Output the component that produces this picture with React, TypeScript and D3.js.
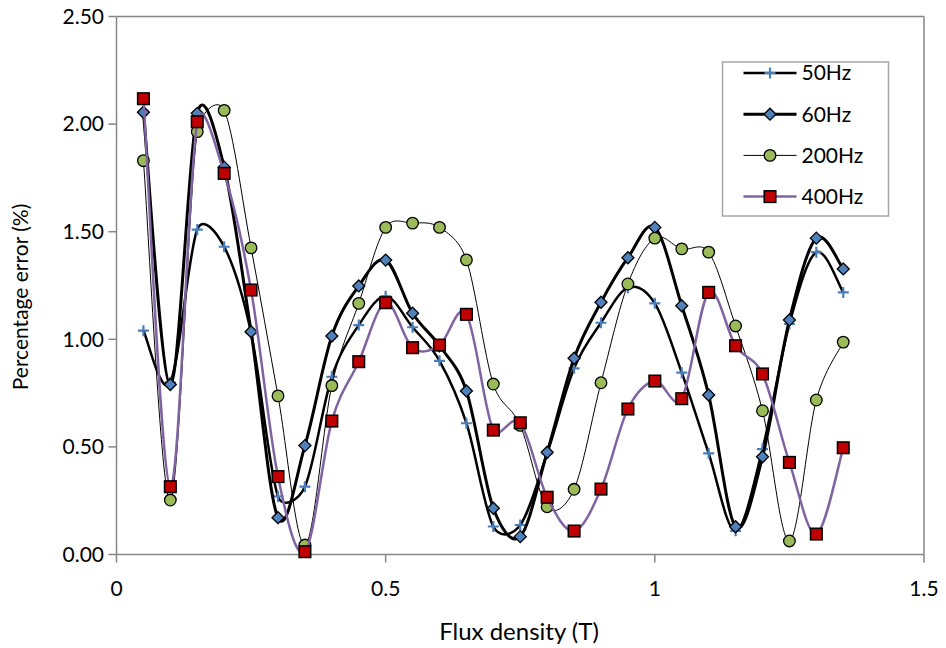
import React from "react";
import * as d3 from "d3";

// Flux density sample points (T)
const fluxDensity = [
  0.05, 0.1, 0.15, 0.2, 0.25, 0.3, 0.35, 0.4, 0.45, 0.5, 0.55, 0.6, 0.65, 0.7,
  0.75, 0.8, 0.85, 0.9, 0.95, 1.0, 1.05, 1.1, 1.15, 1.2, 1.25, 1.3, 1.35,
];

// Percentage error (%) per frequency
const err50Hz = [
  1.04, 0.8, 1.51, 1.43, 1.03, 0.27, 0.315, 0.826, 1.066, 1.2, 1.056, 0.9, 0.61,
  0.13, 0.137, 0.47, 0.865, 1.077, 1.24, 1.167, 0.845, 0.47, 0.11, 0.49, 1.071,
  1.405, 1.218,
];
const err60Hz = [
  2.055, 0.79, 2.05, 1.8, 1.035, 0.171, 0.506, 1.015, 1.248, 1.368, 1.121, 0.97,
  0.76, 0.215, 0.083, 0.475, 0.912, 1.172, 1.379, 1.52, 1.156, 0.741, 0.129,
  0.454, 1.09, 1.47, 1.327,
];
const err200Hz = [
  1.83, 0.253, 1.965, 2.064, 1.425, 0.737, 0.044, 0.785, 1.167, 1.52, 1.54,
  1.52, 1.369, 0.792, 0.6, 0.222, 0.303, 0.798, 1.257, 1.47, 1.42, 1.405, 1.062,
  0.668, 0.063, 0.718, 0.987,
];
const err400Hz = [
  2.118, 0.315, 2.011, 1.771, 1.229, 0.362, 0.013, 0.62, 0.896, 1.17, 0.961,
  0.973, 1.116, 0.578, 0.612, 0.266, 0.109, 0.304, 0.676, 0.806, 0.724, 1.218,
  0.97, 0.839, 0.428, 0.095, 0.496,
];

const seriesNames = ["50Hz", "60Hz", "200Hz", "400Hz"];
const xTicks = [0, 0.5, 1, 1.5];
const xTickLabels = ["0", "0.5", "1", "1.5"];
const yTicks = [0, 0.5, 1, 1.5, 2, 2.5];

const W = 946;
const H = 648;
const FONT = "Lato, 'Open Sans', sans-serif";
const AXIS = "#868686";

type Marker = "plus" | "diamond" | "circle" | "square";
interface SeriesStyle {
  line: string;
  width: number;
  marker: Marker;
  fill: string;
}
const styles: SeriesStyle[] = [
  { line: "#000000", width: 2.5, marker: "plus", fill: "#4a7ebb" },
  { line: "#000000", width: 3, marker: "diamond", fill: "#4f81bd" },
  { line: "#000000", width: 1, marker: "circle", fill: "#9bbb59" },
  { line: "#8064a2", width: 2.5, marker: "square", fill: "#c00000" },
];

// Spreadsheet-style smoothed line: cubic Bezier segments whose control arms are
// one sixth of the neighbour chord, capped at half of the segment length.
function smoothSpreadsheet(context: any) {
  let pts: [number, number][] = [];
  const dist = (a: [number, number], b: [number, number]) => Math.hypot(b[0] - a[0], b[1] - a[1]);
  return {
    areaStart() {},
    areaEnd() {},
    lineStart() {
      pts = [];
    },
    point(x: number, y: number) {
      pts.push([+x, +y]);
    },
    lineEnd() {
      const n = pts.length;
      if (!n) return;
      context.moveTo(pts[0][0], pts[0][1]);
      for (let i = 0; i < n - 1; i++) {
        const p0 = pts[Math.max(i - 1, 0)];
        const p1 = pts[i];
        const p2 = pts[i + 1];
        const p3 = pts[Math.min(i + 2, n - 1)];
        const d12 = dist(p1, p2);
        const d02 = dist(p0, p2);
        const d13 = dist(p1, p3);
        const f1 = d02 / 6 < d12 / 2 || d02 === 0 ? 1 / 6 : d12 / (2 * d02);
        const f2 = d13 / 6 < d12 / 2 || d13 === 0 ? 1 / 6 : d12 / (2 * d13);
        context.bezierCurveTo(
          p1[0] + (p2[0] - p0[0]) * f1,
          p1[1] + (p2[1] - p0[1]) * f1,
          p2[0] - (p3[0] - p1[0]) * f2,
          p2[1] - (p3[1] - p1[1]) * f2,
          p2[0],
          p2[1]
        );
      }
    },
  };
}

function MarkerShape({ type, fill, x, y }: { type: Marker; fill: string; x: number; y: number }) {
  if (type === "plus") {
    return (
      <path
        d={`M${x - 5.5},${y}H${x + 5.5}M${x},${y - 5.5}V${y + 5.5}`}
        stroke={fill}
        strokeWidth={2.2}
        fill="none"
      />
    );
  }
  if (type === "diamond") {
    const r = 6;
    return (
      <path
        d={`M${x},${y - r}L${x + r},${y}L${x},${y + r}L${x - r},${y}Z`}
        fill={fill}
        stroke="#000"
        strokeWidth={1.3}
      />
    );
  }
  if (type === "circle") {
    return <circle cx={x} cy={y} r={5.8} fill={fill} stroke="#000" strokeWidth={1.3} />;
  }
  const s = 5.8;
  return (
    <rect x={x - s} y={y - s} width={2 * s} height={2 * s} fill={fill} stroke="#000" strokeWidth={1.5} />
  );
}

export default function App() {
  const x = d3.scaleLinear().domain([0, 1.5]).range([116.5, 924]);
  const y = d3.scaleLinear().domain([0, 2.5]).range([554.5, 16.5]);
  const allSeries = [err50Hz, err60Hz, err200Hz, err400Hz];

  const line = d3
    .line<number>()
    .x((_, i) => x(fluxDensity[i]))
    .y((d) => y(d))
    .curve(smoothSpreadsheet as any);

  const [x0, x1] = x.range();
  const [y0, y1] = y.range();

  const legendX = 722.5;
  const legendY = 62;
  const rowGap = 41.2;

  return (
    <svg
      width={W}
      height={H}
      style={{ position: "absolute", left: 0, top: 0, display: "block", background: "#fff" }}
      fontFamily={FONT}
    >
      {/* plot frame */}
      <line x1={x0} x2={x1} y1={y1} y2={y1} stroke={AXIS} strokeWidth={1.5} />
      <line x1={x1} x2={x1} y1={y1} y2={y0} stroke={AXIS} strokeWidth={1.5} />
      <line x1={x0} x2={x0} y1={y1} y2={y0} stroke={AXIS} strokeWidth={1.5} />
      <line x1={x0} x2={x1} y1={y0} y2={y0} stroke={AXIS} strokeWidth={1.5} />

      {/* y axis ticks and labels */}
      {yTicks.map((t) => (
        <g key={`y${t}`}>
          <line x1={x0 - 8} x2={x0} y1={y(t)} y2={y(t)} stroke={AXIS} strokeWidth={1.5} />
          <text x={104} y={y(t)} dy="0.35em" textAnchor="end" fontSize={21} fill="#000">
            {t.toFixed(2)}
          </text>
        </g>
      ))}

      {/* x axis ticks and labels */}
      {xTicks.map((t, i) => (
        <g key={`x${t}`}>
          <line x1={x(t)} x2={x(t)} y1={y0} y2={y0 + 8} stroke={AXIS} strokeWidth={1.5} />
          <text x={x(t)} y={596} textAnchor="middle" fontSize={21} fill="#000">
            {xTickLabels[i]}
          </text>
        </g>
      ))}

      <text x={519} y={640} textAnchor="middle" fontSize={24} fill="#000">
        Flux density (T)
      </text>
      <text
        transform={`translate(28,297) rotate(-90)`}
        textAnchor="middle"
        fontSize={21}
        fill="#000"
      >
        Percentage error (%)
      </text>

      {/* series: line then markers, in order */}
      {allSeries.map((vals, si) => (
        <g key={seriesNames[si]}>
          <path d={line(vals) ?? ""} fill="none" stroke={styles[si].line} strokeWidth={styles[si].width} />
          {vals.map((v, i) => (
            <MarkerShape key={i} type={styles[si].marker} fill={styles[si].fill} x={x(fluxDensity[i])} y={y(v)} />
          ))}
        </g>
      ))}

      {/* legend */}
      <rect x={legendX} y={legendY} width={166} height={154} fill="#fff" stroke="#a6a6a6" strokeWidth={1.5} />
      {seriesNames.map((name, i) => {
        const ry = legendY + 11 + rowGap * i;
        return (
          <g key={name}>
            <line
              x1={legendX + 21}
              x2={legendX + 74}
              y1={ry}
              y2={ry}
              stroke={styles[i].line}
              strokeWidth={styles[i].width}
            />
            <MarkerShape type={styles[i].marker} fill={styles[i].fill} x={legendX + 47.5} y={ry} />
            <text x={legendX + 79} y={ry} dy="0.35em" fontSize={21} fill="#000">
              {name}
            </text>
          </g>
        );
      })}
    </svg>
  );
}
